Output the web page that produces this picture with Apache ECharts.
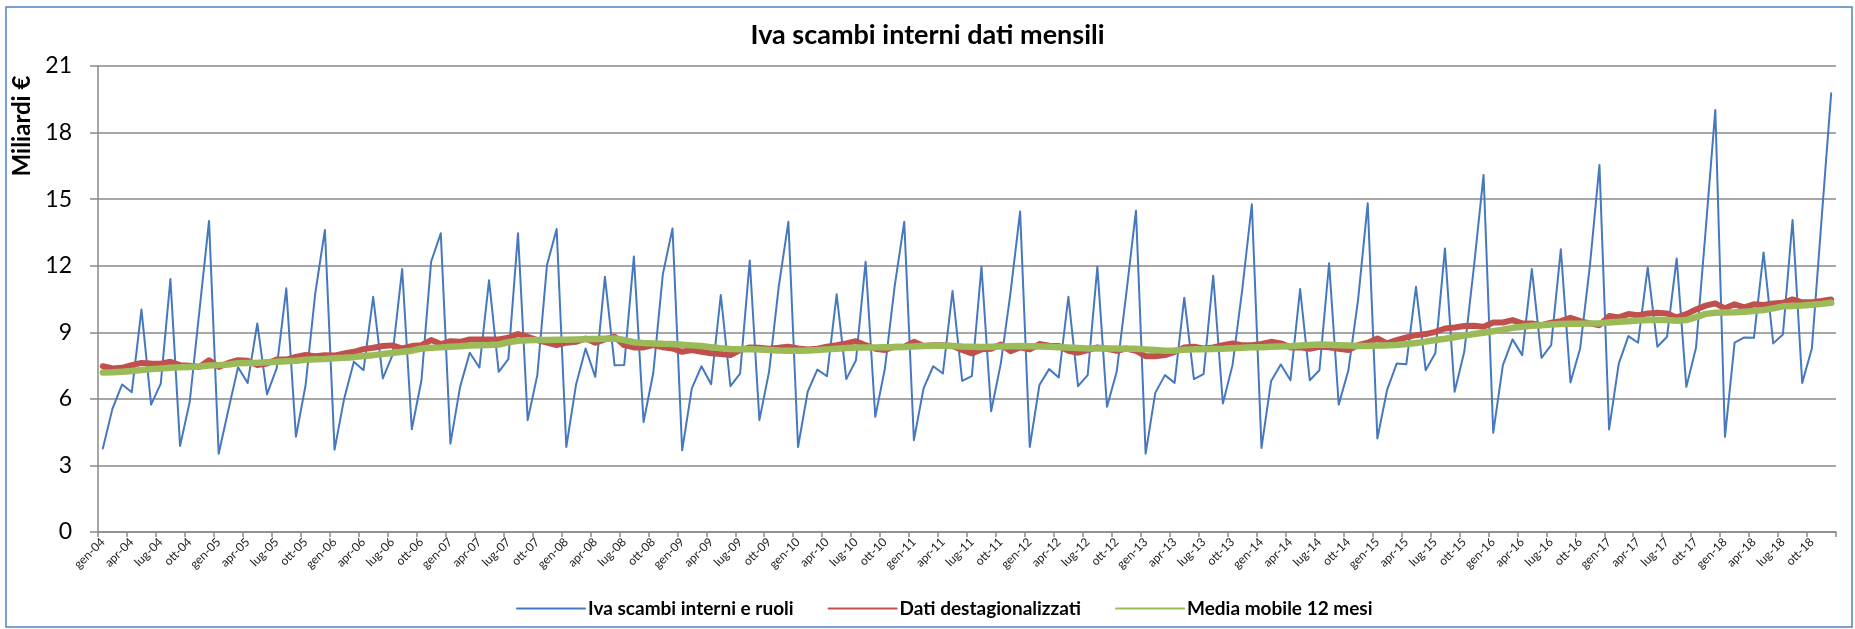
<!DOCTYPE html>
<html>
<head>
<meta charset="utf-8">
<script src="https://cdn.jsdelivr.net/npm/echarts@6/dist/echarts.min.js"></script>
<style>
html,body{margin:0;padding:0;background:#fff;}
#chart{width:1855px;height:629px;}
</style>
</head>
<body>
<div id="chart"></div>
<script>
const monthNames = ['gen','feb','mar','apr','mag','giu','lug','ago','set','ott','nov','dic'];
const years = ['04','05','06','07','08','09','10','11','12','13','14','15','16','17','18'];
const categories = [];
years.forEach(y => monthNames.forEach(m => categories.push(m + '-' + y)));

const yTicks = [0, 3, 6, 9, 12, 15, 18, 21];

// Iva scambi interni e ruoli (miliardi €)
const ivaMensile = [
  3.76, 5.56, 6.65, 6.30, 10.03, 5.74, 6.69, 11.40, 3.88, 5.87, 9.95, 14.02,
  3.53, 5.50, 7.42, 6.72, 9.40, 6.20, 7.37, 10.98, 4.29, 6.62, 10.75, 13.61,
  3.71, 6.02, 7.67, 7.29, 10.60, 6.92, 7.97, 11.85, 4.63, 6.84, 12.18, 13.46,
  3.98, 6.54, 8.08, 7.41, 11.35, 7.22, 7.79, 13.46, 5.04, 7.07, 12.03, 13.65,
  3.83, 6.62, 8.27, 6.99, 11.50, 7.52, 7.53, 12.41, 4.96, 7.14, 11.62, 13.68,
  3.68, 6.47, 7.47, 6.66, 10.68, 6.57, 7.14, 12.23, 5.04, 7.22, 11.05, 13.98,
  3.83, 6.32, 7.32, 7.02, 10.71, 6.89, 7.74, 12.18, 5.19, 7.37, 11.05, 13.98,
  4.14, 6.47, 7.47, 7.14, 10.86, 6.81, 7.02, 11.95, 5.44, 7.59, 10.75, 14.44,
  3.83, 6.62, 7.34, 6.96, 10.60, 6.57, 7.07, 11.95, 5.64, 7.22, 10.75, 14.48,
  3.53, 6.27, 7.07, 6.72, 10.56, 6.89, 7.11, 11.55, 5.79, 7.52, 10.90, 14.77,
  3.79, 6.81, 7.55, 6.84, 10.95, 6.84, 7.29, 12.11, 5.74, 7.29, 10.45, 14.81,
  4.21, 6.39, 7.59, 7.56, 11.05, 7.29, 8.05, 12.78, 6.32, 8.12, 11.95, 16.09,
  4.47, 7.52, 8.68, 7.97, 11.85, 7.85, 8.42, 12.74, 6.74, 8.27, 11.95, 16.54,
  4.62, 7.59, 8.83, 8.53, 11.92, 8.35, 8.80, 12.33, 6.54, 8.30, 13.60, 19.02,
  4.29, 8.53, 8.77, 8.75, 12.60, 8.50, 8.90, 14.06, 6.72, 8.27, 14.06, 19.77
];

// Dati destagionalizzati
const destagionalizzati = [
  7.47, 7.37, 7.40, 7.52, 7.62, 7.59, 7.58, 7.67, 7.52, 7.49, 7.44, 7.74,
  7.44, 7.62, 7.74, 7.72, 7.52, 7.59, 7.77, 7.77, 7.89, 7.98, 7.92, 7.97,
  7.95, 8.05, 8.12, 8.24, 8.30, 8.38, 8.41, 8.27, 8.38, 8.42, 8.65, 8.47,
  8.60, 8.57, 8.68, 8.68, 8.68, 8.68, 8.75, 8.92, 8.80, 8.65, 8.53, 8.42,
  8.53, 8.57, 8.72, 8.53, 8.68, 8.80, 8.42, 8.32, 8.32, 8.42, 8.32, 8.27,
  8.12, 8.20, 8.12, 8.05, 8.02, 7.97, 8.20, 8.32, 8.30, 8.26, 8.30, 8.35,
  8.27, 8.23, 8.26, 8.35, 8.42, 8.50, 8.60, 8.42, 8.26, 8.20, 8.35, 8.35,
  8.57, 8.38, 8.42, 8.42, 8.38, 8.20, 8.05, 8.23, 8.26, 8.45, 8.15, 8.32,
  8.23, 8.47, 8.39, 8.38, 8.17, 8.08, 8.20, 8.32, 8.26, 8.17, 8.27, 8.17,
  7.92, 7.92, 7.97, 8.12, 8.32, 8.35, 8.27, 8.32, 8.42, 8.50, 8.42, 8.42,
  8.47, 8.57, 8.50, 8.32, 8.32, 8.26, 8.35, 8.32, 8.26, 8.20, 8.42, 8.53,
  8.72, 8.50, 8.65, 8.77, 8.87, 8.92, 9.02, 9.17, 9.22, 9.28, 9.29, 9.25,
  9.44, 9.44, 9.55, 9.40, 9.40, 9.32, 9.43, 9.50, 9.65, 9.50, 9.40, 9.32,
  9.73, 9.67, 9.82, 9.77, 9.85, 9.88, 9.85, 9.67, 9.82, 10.03, 10.20, 10.30,
  10.08, 10.26, 10.12, 10.26, 10.23, 10.30, 10.33, 10.48, 10.35, 10.35, 10.41, 10.48
];

// Media mobile 12 mesi
const mediaMobile = [
  7.19, 7.20, 7.22, 7.26, 7.30, 7.34, 7.37, 7.40, 7.42, 7.44, 7.46, 7.50,
  7.52, 7.55, 7.60, 7.62, 7.63, 7.65, 7.67, 7.70, 7.72, 7.76, 7.78, 7.80,
  7.83, 7.85, 7.88, 7.93, 7.97, 8.02, 8.07, 8.12, 8.17, 8.27, 8.30, 8.32,
  8.35, 8.37, 8.40, 8.42, 8.43, 8.45, 8.55, 8.62, 8.64, 8.65, 8.65, 8.66,
  8.66, 8.68, 8.69, 8.70, 8.71, 8.72, 8.65, 8.55, 8.52, 8.50, 8.48, 8.47,
  8.44, 8.41, 8.38, 8.33, 8.28, 8.25, 8.24, 8.23, 8.22, 8.20, 8.18, 8.17,
  8.17, 8.18, 8.20, 8.23, 8.26, 8.29, 8.31, 8.32, 8.32, 8.33, 8.33, 8.34,
  8.36, 8.38, 8.39, 8.39, 8.38, 8.36, 8.35, 8.34, 8.35, 8.36, 8.37, 8.38,
  8.37, 8.36, 8.35, 8.33, 8.31, 8.29, 8.27, 8.27, 8.27, 8.27, 8.26, 8.26,
  8.23, 8.20, 8.17, 8.18, 8.21, 8.23, 8.24, 8.25, 8.26, 8.28, 8.30, 8.33,
  8.33, 8.35, 8.36, 8.37, 8.40, 8.43, 8.45, 8.44, 8.42, 8.40, 8.38, 8.38,
  8.40, 8.41, 8.43, 8.47, 8.52, 8.58, 8.65, 8.71, 8.78, 8.85, 8.92, 8.98,
  9.05, 9.12, 9.20, 9.25, 9.29, 9.32, 9.35, 9.37, 9.38, 9.39, 9.40, 9.41,
  9.44, 9.47, 9.50, 9.53, 9.55, 9.56, 9.55, 9.52, 9.55, 9.68, 9.83, 9.88,
  9.89, 9.90, 9.93, 9.96, 10.00, 10.08, 10.17, 10.19, 10.21, 10.24, 10.28, 10.33
];

const seriesNames = ['Iva scambi interni e ruoli', 'Dati destagionalizzati', 'Media mobile 12 mesi'];

const FONT = 'Lato';
const GRID_COLOR = '#8a8a8a';

const chart = echarts.init(document.getElementById('chart'), null, {renderer: 'canvas'});
const option = {
  animation: false,
  backgroundColor: '#fff',
  textStyle: {fontFamily: FONT},
  title: {
    text: 'Iva scambi interni dati mensili',
    left: 'center',
    top: 17,
    textStyle: {fontFamily: FONT, fontSize: 27, fontWeight: 'bold', color: '#000'}
  },
  grid: {left: 98, right: 19, top: 66, bottom: 97, containLabel: false},
  legend: {
    data: seriesNames,
    top: 594,
    left: 511,
    itemWidth: 68,
    itemHeight: 16,
    itemGap: 34,
    itemStyle: {opacity: 0},
    textStyle: {fontFamily: FONT, fontSize: 19, fontWeight: 'bold', color: '#000', padding: [0, 0, 0, -2]}
  },
  xAxis: {
    type: 'category',
    data: categories,
    boundaryGap: true,
    axisLine: {lineStyle: {color: GRID_COLOR, width: 1.5}},
    axisTick: {show: true, interval: 2, length: 5, lineStyle: {color: GRID_COLOR, width: 1.5}},
    axisLabel: {interval: 2, rotate: 45, fontSize: 12, color: '#222', margin: 8, fontFamily: FONT},
    splitLine: {show: false}
  },
  yAxis: {
    type: 'value',
    min: yTicks[0],
    max: yTicks[yTicks.length - 1],
    interval: 3,
    axisLine: {show: true, lineStyle: {color: GRID_COLOR, width: 1.5}},
    axisTick: {show: true, length: 8, lineStyle: {color: GRID_COLOR, width: 1.5}},
    splitLine: {show: true, lineStyle: {color: GRID_COLOR, width: 1.5}},
    axisLabel: {fontSize: 23, color: '#000', margin: 26, fontFamily: FONT}
  },
  graphic: [
    {
      type: 'rect',
      shape: {x: 6, y: 7, width: 1846, height: 620},
      style: {fill: 'none', stroke: '#4f81bd', lineWidth: 1.5},
      silent: true
    },
    {
      type: 'text',
      x: 22,
      y: 126,
      rotation: Math.PI / 2,
      style: {
        text: 'Miliardi €',
        fontFamily: FONT,
        fontSize: 24,
        fontWeight: 'bold',
        fill: '#000',
        textAlign: 'center',
        textVerticalAlign: 'middle'
      }
    }
  ],
  series: [
    {
      name: seriesNames[0],
      type: 'line',
      data: ivaMensile,
      symbol: 'none',
      lineStyle: {color: '#4678bf', width: 2, join: 'round', cap: 'round'},
      itemStyle: {color: '#4678bf'},
      z: 2
    },
    {
      name: seriesNames[1],
      type: 'line',
      data: destagionalizzati,
      symbol: 'none',
      lineStyle: {color: '#c0504d', width: 6, join: 'round', cap: 'round'},
      itemStyle: {color: '#c0504d'},
      z: 3
    },
    {
      name: seriesNames[2],
      type: 'line',
      data: mediaMobile,
      symbol: 'none',
      lineStyle: {color: '#9bbb59', width: 6.5, join: 'round', cap: 'round'},
      itemStyle: {color: '#9bbb59'},
      z: 4
    }
  ]
};
chart.setOption(option);
</script>
</body>
</html>
